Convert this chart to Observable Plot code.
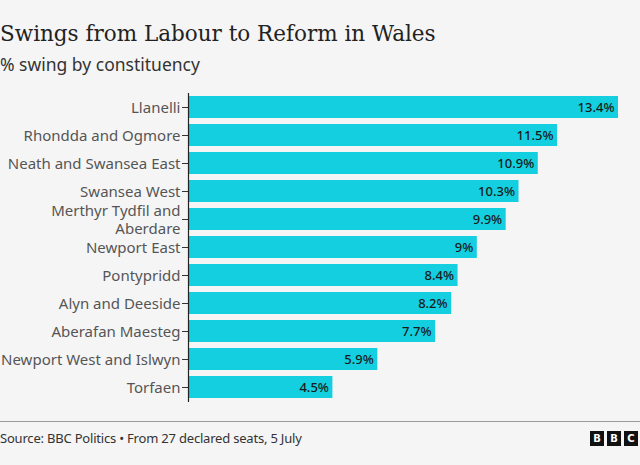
<!DOCTYPE html>
<html>
<head>
<meta charset="utf-8">
<script src="https://cdn.jsdelivr.net/npm/d3@7"></script>
<script src="https://cdn.jsdelivr.net/npm/@observablehq/plot@0.6"></script>
<style>
  html, body { margin: 0; padding: 0; background: #f5f5f5; }
  body { width: 640px; height: 465px; position: relative; overflow: hidden; font-family: "Noto Sans", sans-serif; }
  #title { position: absolute; left: 0; top: 21px; font-family: "DejaVu Serif", serif; font-size: 21.5px; color: #222; white-space: nowrap; }
  #subtitle { position: absolute; left: 0; top: 52px; font-size: 17.5px; color: #333; white-space: nowrap; }
  #chart { position: absolute; left: 0; top: 0; line-height: 0; }
  #chart svg { display: block; }
  #rule { position: absolute; left: 0; top: 421px; width: 640px; height: 0; border-top: 1px solid #9a9a9a; }
  #source { position: absolute; left: 0; top: 429px; font-size: 13px; letter-spacing: -0.2px; color: #333; white-space: nowrap; }
  #logo { position: absolute; right: 2px; top: 431px; display: flex; gap: 3px; }
  #logo span { width: 14px; height: 15px; background: #111; color: #fff; font: bold 10px "DejaVu Sans", sans-serif; display: flex; align-items: center; justify-content: center; }
</style>
</head>
<body>
<div id="chart"></div>
<div id="title">Swings from Labour to Reform in Wales</div>
<div id="subtitle">% swing by constituency</div>
<div id="rule"></div>
<div id="source">Source: BBC Politics • From 27 declared seats, 5 July</div>
<div id="logo"><span>B</span><span>B</span><span>C</span></div>
<script>
const constituencies = ["Llanelli", "Rhondda and Ogmore", "Neath and Swansea East", "Swansea West", "Merthyr Tydfil and Aberdare", "Newport East", "Pontypridd", "Alyn and Deeside", "Aberafan Maesteg", "Newport West and Islwyn", "Torfaen"];
const swings = [13.4, 11.5, 10.9, 10.3, 9.9, 9, 8.4, 8.2, 7.7, 5.9, 4.5];
const tickLabels = {"Merthyr Tydfil and Aberdare": "Merthyr Tydfil and\nAberdare"};

const data = constituencies.map((c, i) => ({name: c, value: swings[i]}));

const chart = Plot.plot({
  width: 640,
  height: 465,
  marginLeft: 188,
  marginRight: 22,
  marginTop: 93,
  marginBottom: 63,
  style: {background: "transparent", fontFamily: "Noto Sans, sans-serif"},
  x: {domain: [0, 13.4], axis: null},
  y: {domain: constituencies, paddingInner: 0.2, paddingOuter: 0.1, label: null},
  marks: [
    Plot.barX(data, {y: "name", x: "value", fill: "#13cfe0"}),
    Plot.text(data, {y: "name", x: "value", text: d => d.value + "%", textAnchor: "end", dx: -4, fill: "#1a1a1a", fontSize: 13, fontWeight: 500}),
    Plot.axisY({tickSize: 6, tickPadding: 2, fontSize: 15, color: "#555", stroke: "#333", tickFormat: d => tickLabels[d] || d, lineHeight: 1.15}),
    Plot.ruleX([0], {stroke: "#222", strokeWidth: 1.2})
  ]
});
document.getElementById("chart").appendChild(chart);
</script>
</body>
</html>
